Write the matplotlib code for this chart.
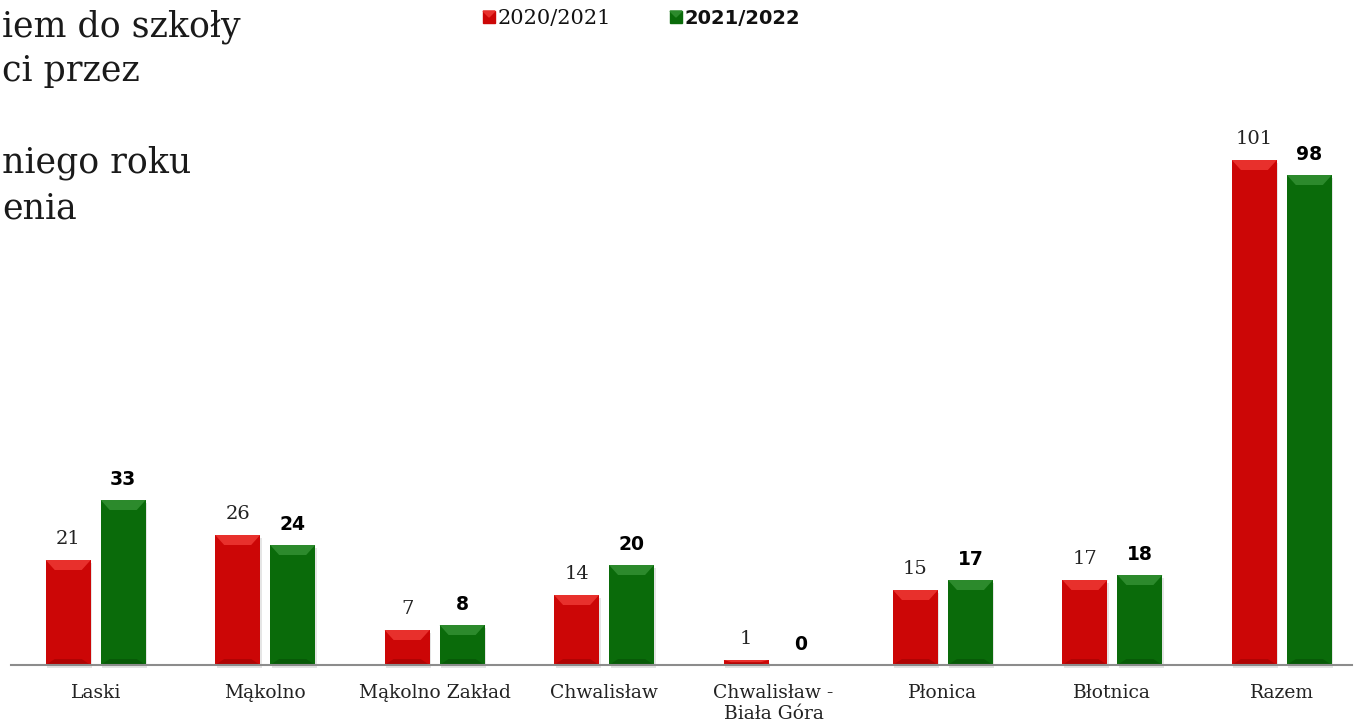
import numpy as np
import matplotlib
matplotlib.use("Agg")
import matplotlib.pyplot as plt
from matplotlib.patches import Polygon, Rectangle

# data
categories = ["Laski", "Mąkolno", "Mąkolno Zakład", "Chwalisław",
              "Chwalisław -\nBiała Góra", "Płonica", "Błotnica", "Razem"]
years = ["2020/2021", "2021/2022"]
v2020 = [21, 26, 7, 14, 1, 15, 17, 101]
v2021 = [33, 24, 8, 20, 0, 17, 18, 98]
title_lines = ["iem do szkoły", "ci przez", "", "niego roku", "enia"]

red, red_hi, red_lo = "#cc0606", "#e8302c", "#b00303"
green, green_hi, green_lo = "#0a6b0a", "#2c8a2c", "#075a07"

W, H = 1363, 724
fig = plt.figure(figsize=(W / 100, H / 100), dpi=100)
ax_l, ax_r, ax_b, ax_t = 11, 1352, 665, 90
ax = fig.add_axes([ax_l / W, (H - ax_b) / H, (ax_r - ax_l) / W, (ax_b - ax_t) / H])
x0, x1 = -0.5, 7.414
y1 = 115
ax.set_xlim(x0, x1)
ax.set_ylim(0, y1)

# px -> data units
dx = (x1 - x0) / (ax_r - ax_l)
dy = y1 / (ax_b - ax_t)

x = np.arange(len(categories))
bw = 45 * dx
off = 27.5 * dx


def bevel(rects, hi, lo):
    for r in rects:
        bx, by, w, h = r.get_x(), r.get_y(), r.get_width(), r.get_height()
        if h <= 0:
            continue
        top = by + h
        bh = min(10 * dy, h / 2)
        ins = min(9 * dx, w / 2)
        # soft shadow
        ax.add_patch(Rectangle((bx + 1.5 * dx, by - 3 * dy), w, h, color="#000000",
                               alpha=0.10, zorder=1, lw=0, clip_on=False))
        ax.add_patch(Polygon([(bx, top), (bx + w, top), (bx + w - ins, top - bh),
                              (bx + ins, top - bh)], closed=True, color=hi, lw=0, zorder=3))
        lb = min(6 * dy, h / 2)
        ax.add_patch(Polygon([(bx, by), (bx + w, by), (bx + w - ins, by + lb),
                              (bx + ins, by + lb)], closed=True, color=lo, lw=0, zorder=3))


b1 = ax.bar(x - off, v2020, bw, color=red, zorder=2, lw=0)
b2 = ax.bar(x + off, v2021, bw, color=green, zorder=2, lw=0)
bevel(b1, red_hi, red_lo)
bevel(b2, green_hi, green_lo)

for xi, v in zip(x, v2020):
    ax.text(xi - off, v + 16 * dy, str(v), ha="center", va="baseline",
            fontsize=14, family="DejaVu Serif", color="#222222")
for xi, v in zip(x, v2021):
    ax.text(xi + off, v + 15 * dy, str(v), ha="center", va="baseline",
            fontsize=13.5, family="DejaVu Sans", fontweight="bold", color="#000000")

for s in ["top", "right", "left"]:
    ax.spines[s].set_visible(False)
ax.spines["bottom"].set_color("#8c8c8c")
ax.spines["bottom"].set_linewidth(1.5)
ax.spines["bottom"].set_zorder(4)
ax.set_yticks([])
ax.set_xticks(x)
ax.set_xticklabels(categories, family="DejaVu Serif", fontsize=13.5, color="#222222",
                   linespacing=1.15)
ax.tick_params(axis="x", length=0, pad=14)

# title (clipped on the left in the original)
for i, line in enumerate(title_lines):
    fig.text(2 / W, 1 - (36 + 45.5 * i) / H, line, ha="left", va="baseline",
             fontsize=25, family="DejaVu Serif", color="#1a1a1a")

# legend
def legend_item(px, label, col, hi, bold):
    fig.patches.append(Rectangle((px / W, 1 - 23 / H), 12 / W, 12 / H, color=col,
                                 transform=fig.transFigure, figure=fig))
    fig.patches.append(Polygon([(px / W, 1 - 11 / H), ((px + 12) / W, 1 - 11 / H),
                                ((px + 6) / W, 1 - 17 / H)], closed=True, color=hi,
                               transform=fig.transFigure, figure=fig))
    fig.text((px + 15) / W, 1 - 24 / H, label, ha="left", va="baseline",
             fontsize=14 if bold else 15,
             family="DejaVu Sans" if bold else "DejaVu Serif",
             fontweight="bold" if bold else "normal", color="#111111")


legend_item(483, years[0], red, red_hi, False)
legend_item(670, years[1], green, green_hi, True)

fig.savefig("out.png", dpi=100)
